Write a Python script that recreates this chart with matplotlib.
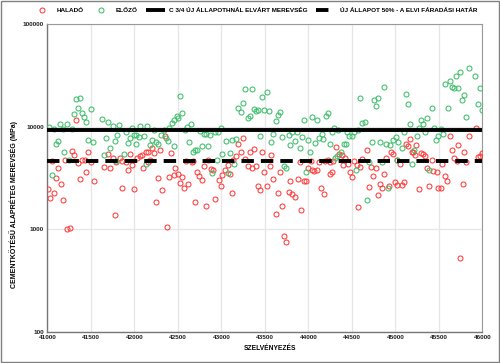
import matplotlib
matplotlib.use("Agg")
import matplotlib.pyplot as plt
from matplotlib.lines import Line2D
from matplotlib.patches import Rectangle
from matplotlib.ticker import FixedLocator, NullLocator

plt.rcParams['font.family'] = ['Liberation Sans', 'DejaVu Sans']
plt.rcParams['font.weight'] = 'bold'

series_names = ["HALADÓ", "ELŐZŐ"]
line_names = ["C 3/4 ÚJ ÁLLAPOTHNÁL ELVÁRT MEREVSÉG", "ÚJ ÁLLAPOT 50% - A ELVI FÁRADÁSI HATÁR"]
line_values = [9300, 4650]

halado_x = [41326, 41280, 41303, 41204, 41058, 41127, 41357, 41403, 41434, 41472, 41503, 41449, 41380, 41533,
            41104, 41158, 41005, 41081, 41028, 41181, 41227, 41257, 41656, 41694, 41725, 41755, 41794, 41832,
            41863, 41901, 41954, 41977, 41924, 41855, 41993, 41778,
            42353, 42207, 42161, 42131, 42092, 42062, 42031, 42230, 42299, 42184, 42154, 42100, 42422, 42468,
            42276, 42399, 42452, 42506, 42552, 42529, 42621, 42575, 42322, 42253, 42598, 42659, 42674, 42720,
            42743, 42774, 42797, 42851, 42881, 42904, 42973, 42996, 43011, 42927, 42820, 42697, 42376,
            43249, 43195, 43226, 43172, 43134, 43073, 43103, 43042, 43371, 43325, 43471, 43272, 43302, 43348,
            43402, 43570, 43555, 43494, 43425, 43448, 43525, 43593, 43670, 43647, 43793, 43777, 43816, 43846,
            43877, 43946, 43976, 43900, 43999, 43915, 43693, 43624, 43126, 43724, 43747,
            44321, 44352, 44390, 44421, 44222, 44191, 44122, 44030, 44283, 44252, 44398, 44451, 44520, 44559,
            44589, 44620, 44673, 44719, 44773, 44896, 44949, 44972, 45018, 44038, 44068, 44099, 44275, 44252,
            44474, 44497, 44742, 44873, 44696, 44819, 44850, 44926, 44995, 45018, 44796, 44145, 44176, 44574,
            45922, 45845, 45623, 45171, 45118, 45148, 45240, 45209, 45187, 45225, 45294, 45324, 45347, 45646,
            45723, 45792, 45669, 45707, 45815, 45945, 45968, 45998, 45049, 45424, 45370, 45439, 45478, 45539,
            45570, 45592, 45072, 45102, 45271, 45393, 45493, 45524, 45776, 45746]
halado_y = [11590, 5830, 5290, 4700, 4630, 3980, 4390, 4730, 4730, 5620, 4555, 3640, 3085, 2950,
            3130, 2740, 2465, 2250, 2000, 1930, 1010, 1020, 4070, 5370, 3920, 4910, 4555, 4990,
            4620, 4490, 5450, 4225, 3800, 2540, 2465, 1376,
            8160, 6140, 5700, 5620, 5290, 5130, 4910, 5490, 5860, 4700, 4555, 3920, 5490, 3980,
            3180, 3225, 3375, 3420, 3225, 2820, 2780, 2500, 2390, 1856, 4620, 4490, 4620, 3590,
            3330, 3040, 4100, 4700, 3860, 3750, 3040, 2620, 3375, 1970, 1700, 1830, 1040,
            7690, 6720, 5700, 5210, 4700, 4225, 3420, 3750, 6040, 5620, 5700, 4840, 4100, 3980,
            4160, 5290, 4160, 3590, 2660, 2390, 2620, 3085, 3640, 2250, 2970, 2290, 2190, 2060,
            3085, 2950, 2970, 4490, 3920, 1525, 1670, 1420, 2250, 865, 756,
            6380, 5450, 5290, 4990, 4700, 4630, 4555, 4620, 4630, 4555, 4225, 4360, 4630, 4225,
            4040, 4840, 5860, 4040, 3920, 4990, 5700, 5450, 4700, 3800, 3700, 3750, 3590, 3420,
            3590, 3225, 3330, 3420, 2580, 2740, 2500, 2660, 2860, 2700, 2155, 2500, 2190, 1660,
            9620, 8160, 8040, 7570, 6820, 6520, 6620, 5700, 5620, 5290, 5530, 5450, 5130, 5950,
            6620, 5620, 4990, 4630, 4490, 5050, 5130, 5530, 4360, 4770, 3920, 3700, 3590, 4290,
            3280, 2950, 2700, 2860, 2465, 2660, 2540, 2540, 2740, 520]

elozo_x = [41020, 41080, 41150, 41185, 41227, 41280, 41326, 41376, 41349, 41303, 41403, 41426, 41449, 41503,
           41127, 41104, 41196, 41250, 41051, 41472, 41529, 41625, 41702, 41755, 41824, 41901, 41977, 41675,
           41778, 41725, 41801, 41954, 41924, 42000, 41648, 41878, 41786,
           42069, 42146, 42016, 42054, 42108, 42023, 42177, 42222, 42199, 42245, 42276, 42307, 42337, 42368,
           42383, 42399, 42429, 42460, 42491, 42506, 42552, 42529, 42452, 42582, 42605, 42651, 42628, 42674,
           42697, 42720, 42774, 42751, 42797, 42820, 42851, 42874, 42927, 42965, 42996, 43011, 42131, 42950,
           42897,
           43272, 43348, 43471, 43525, 43249, 43195, 43226, 43371, 43394, 43417, 43494, 43548, 43302, 43325,
           43624, 43647, 43670, 43946, 43050, 43126, 43172, 43448, 43570, 43593, 43701, 43777, 43816, 43869,
           43846, 43793, 43900, 43923, 43999, 44015, 43103, 43149, 43073, 43724, 43747, 43969,
           44045, 44099, 44199, 44229, 44597, 44750, 44796, 44773, 44873, 44620, 44650, 44298, 44275, 44344,
           44444, 44467, 44497, 44528, 44574, 44153, 44122, 44168, 44076, 44252, 44405, 44428, 44727, 44819,
           44896, 44942, 44972, 45003, 45033, 44375, 44329, 44306, 44696, 44850, 44543, 44919, 44673,
           45845, 45738, 45700, 45914, 45623, 45570, 45646, 45677, 45723, 45968, 45792, 45769, 45945, 45998,
           45815, 45118, 45148, 45424, 45600, 45171, 45370, 45294, 45324, 45271, 45347, 45095, 45447, 45524,
           45493, 45470, 45547, 45248, 45072, 45217, 45018, 45194, 45393]
elozo_y = [10000, 9480, 10530, 9480, 10530, 9480, 18450, 18860, 15080, 13180, 13480, 12500, 11170, 14850,
           7240, 6720, 5700, 4700, 3375, 7410, 7030, 11780, 11170, 10210, 10370, 8930, 9760, 7690,
           7240, 6230, 8285, 7800, 6870, 8285, 5290, 5370, 4620,
           10210, 10210, 8285, 7920, 8040, 6720, 6620, 9270, 7410, 7135, 6720, 8285, 9340, 7800,
           7240, 9620, 10760, 11690, 12780, 12040, 13680, 20030, 6470, 9270, 9920, 10530, 7135, 5620,
           5950, 5860, 6520, 9060, 8410, 8540, 6430, 8285, 8800, 8930, 9760, 5450, 4360, 4700,
           3530,
           23100, 23100, 19580, 21910, 16860, 15080, 13990, 14850, 14200, 14630, 14530, 14200, 12220, 12780,
           11440, 12980, 13990, 11590, 7300, 7350, 7570, 8160, 7030, 8540, 7980, 8285, 8800, 8930,
           7240, 6620, 6140, 7920, 7350, 5620, 5580, 4360, 3530, 4100, 3920, 3590,
           12500, 11530, 12780, 13480, 19150, 18310, 18860, 16000, 24320, 10760, 11170, 9620, 8800, 9340,
           8800, 8040, 8160, 8800, 9200, 8480, 7690, 7570, 6930, 6720, 6720, 6820, 7030, 7030,
           6720, 6620, 7460, 7920, 7030, 5700, 5130, 4990, 4490, 4555, 3750, 2500, 1910,
           37550, 33830, 31400, 31400, 27830, 25820, 24320, 23610, 23960, 23610, 20330, 18040, 16740, 14420,
           12400, 20950, 16740, 15300, 15080, 10680, 12040, 11500, 10680, 9760, 8800, 8800, 9760, 9480,
           8040, 7350, 8540, 8160, 6140, 5860, 4700, 4360, 3800]

x_ticks = [41000, 41500, 42000, 42500, 43000, 43500, 44000, 44500, 45000, 45500, 46000]
y_ticks = [100, 1000, 10000, 100000]

red = '#ff3b3b'
green = '#3cbf6a'

fig = plt.figure(figsize=(5.0, 3.63), dpi=100)
ax = fig.add_axes([0.0946, 0.0862, 0.870, 0.8477])

ax.plot(halado_x, halado_y, linestyle='none', marker='o', markersize=3.6,
        markerfacecolor='none', markeredgecolor=red, markeredgewidth=0.75, zorder=3)
ax.plot(elozo_x, elozo_y, linestyle='none', marker='o', markersize=3.6,
        markerfacecolor='none', markeredgecolor=green, markeredgewidth=0.75, zorder=3)
ax.axhline(line_values[0], color='black', linewidth=2.8, zorder=4)
ax.axhline(line_values[1], color='black', linewidth=2.8, linestyle=(0, (3.2, 1.8)), zorder=4)

ax.set_yscale('log')
ax.set_xlim(41000, 46000)
ax.set_ylim(100, 100000)
ax.xaxis.set_major_locator(FixedLocator(x_ticks))
ax.yaxis.set_major_locator(FixedLocator(y_ticks))
ax.yaxis.set_minor_locator(NullLocator())
ax.set_xticklabels([str(t) for t in x_ticks])
ax.set_yticklabels([str(t) for t in y_ticks])
ax.tick_params(axis='both', length=0, labelsize=4.6, pad=2.5, colors='#222222')
for lab in ax.get_xticklabels() + ax.get_yticklabels():
    lab.set_fontweight('bold')

ax.grid(True, which='major', color='#e6e6e6', linewidth=0.9, zorder=0)
ax.set_axisbelow(True)
for side in ['top', 'right']:
    ax.spines[side].set_color('#999999')
    ax.spines[side].set_linewidth(0.8)
for side in ['left', 'bottom']:
    ax.spines[side].set_color('#777777')
    ax.spines[side].set_linewidth(1.0)

fig.text(0.54, 1 - 349 / 363, "SZELVÉNYEZÉS", ha='center', va='center', fontsize=4.8, fontweight='bold')
fig.text(14 / 500, 1 - 204 / 363, "CEMENTKÖTÉSŰ ALAPRÉTEG MEREVSÉG (MPa)", ha='center', va='center',
         rotation=90, fontsize=5.0, fontweight='bold')

handles = [
    Line2D([], [], linestyle='none', marker='o', markersize=3.6, markerfacecolor='none',
           markeredgecolor=red, markeredgewidth=0.75),
    Line2D([], [], linestyle='none', marker='o', markersize=3.6, markerfacecolor='none',
           markeredgecolor=green, markeredgewidth=0.75),
    Line2D([], [], color='black', linewidth=2.8, solid_capstyle='butt'),
    Line2D([], [], color='black', linewidth=2.8, linestyle=(0, (3.2, 1.8)), dash_capstyle='butt'),
]
fig.legend(handles, series_names + line_names, loc='center', bbox_to_anchor=(0.51, 1 - 10 / 363),
           ncol=4, frameon=False, prop={'size': 4.6, 'weight': 'bold'}, handlelength=3.0,
           columnspacing=1.3, handletextpad=0.7)

fig.patches.append(Rectangle((0.002, 0.003), 0.996, 0.994, transform=fig.transFigure,
                             fill=False, edgecolor='#808080', linewidth=1.0))

fig.savefig('out.png', dpi=100)
